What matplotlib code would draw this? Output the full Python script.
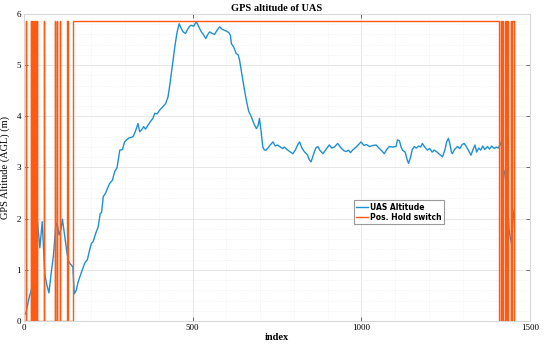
# GPS altitude of UAS vs. position-hold switch
import numpy as np
import matplotlib
matplotlib.use("Agg")
import matplotlib.pyplot as plt
from matplotlib.ticker import MultipleLocator

# altitude samples (index, metres AGL)
alt_idx = [0, 6, 15, 23, 30, 37, 42, 47, 54, 58, 62, 68, 74, 80, 87, 95, 100, 104, 110, 114,
           120, 126, 131, 136, 141, 145, 149, 155, 160, 166, 172, 180, 188, 195, 200, 205, 212,
           220, 226, 230, 235, 242, 248, 254, 262, 269, 276, 284, 292, 298, 304, 312, 323, 330,
           338, 343, 348, 355, 360, 368, 375, 382, 388, 395, 402, 412, 420, 427, 432, 437, 442,
           448, 454, 460, 466, 472, 479, 485, 491, 496, 503, 511, 518, 526, 532, 539, 545, 550,
           558, 565, 572, 580, 588, 595, 602, 608, 612, 615, 622, 629, 635, 639, 644, 649, 654,
           659, 666, 674, 682, 689, 694, 698, 703, 708, 713, 718, 723, 730, 738, 745, 752, 760,
           767, 772, 780, 790, 797, 805, 812, 817, 824, 831, 840, 846, 851, 858, 865, 871, 878,
           886, 895, 905, 912, 920, 930, 940, 948, 955, 962, 968, 974, 985, 992, 999, 1008, 1015,
           1024, 1034, 1044, 1052, 1060, 1068, 1075, 1083, 1092, 1103, 1107, 1113, 1118, 1122,
           1130, 1136, 1140, 1146, 1151, 1157, 1163, 1170, 1176, 1181, 1188, 1196, 1203, 1210,
           1216, 1225, 1233, 1241, 1248, 1253, 1258, 1263, 1267, 1270, 1276, 1285, 1292, 1299,
           1305, 1312, 1318, 1325, 1331, 1337, 1342, 1348, 1354, 1360, 1366, 1374, 1380, 1387,
           1394, 1400, 1406, 1411, 1415, 1417, 1419, 1425, 1432, 1438, 1445, 1450, 1453]
alt_val = [0.10, 0.16, 0.45, 0.64, 1.60, 2.13, 1.80, 1.43, 1.94, 1.40, 0.90, 0.70, 0.55, 0.90, 1.26,
           1.91, 1.85, 1.68, 1.80, 1.99, 1.70, 1.40, 1.19, 1.12, 1.09, 1.05, 0.53, 0.60, 0.75, 0.87,
           0.98, 1.13, 1.20, 1.40, 1.52, 1.55, 1.70, 1.84, 2.10, 2.12, 2.43, 2.50, 2.60, 2.69, 2.75,
           2.92, 3.00, 3.34, 3.35, 3.50, 3.54, 3.58, 3.60, 3.70, 3.86, 3.70, 3.73, 3.80, 3.75, 3.83,
           3.90, 3.96, 4.06, 4.05, 4.12, 4.19, 4.25, 4.38, 4.60, 4.85, 5.10, 5.40, 5.65, 5.81, 5.72,
           5.65, 5.62, 5.70, 5.76, 5.78, 5.76, 5.85, 5.75, 5.65, 5.60, 5.52, 5.60, 5.65, 5.62, 5.60,
           5.68, 5.75, 5.70, 5.68, 5.66, 5.63, 5.58, 5.42, 5.35, 5.23, 5.20, 5.10, 4.90, 4.71, 4.50,
           4.32, 4.10, 3.99, 3.85, 3.76, 3.82, 3.96, 3.70, 3.40, 3.34, 3.34, 3.38, 3.44, 3.50, 3.42,
           3.44, 3.40, 3.37, 3.40, 3.35, 3.30, 3.27, 3.35, 3.45, 3.50, 3.38, 3.31, 3.25, 3.15, 3.11,
           3.25, 3.38, 3.41, 3.33, 3.27, 3.35, 3.44, 3.38, 3.40, 3.47, 3.38, 3.33, 3.31, 3.34, 3.29,
           3.34, 3.40, 3.45, 3.50, 3.43, 3.45, 3.41, 3.43, 3.44, 3.38, 3.33, 3.27, 3.35, 3.41, 3.40,
           3.41, 3.54, 3.52, 3.40, 3.34, 3.30, 3.15, 3.08, 3.20, 3.35, 3.41, 3.38, 3.42, 3.40, 3.47,
           3.40, 3.34, 3.37, 3.30, 3.34, 3.30, 3.25, 3.21, 3.35, 3.50, 3.57, 3.45, 3.30, 3.27, 3.35,
           3.41, 3.37, 3.45, 3.47, 3.40, 3.33, 3.24, 3.35, 3.44, 3.30, 3.38, 3.34, 3.42, 3.35, 3.41,
           3.36, 3.42, 3.37, 3.40, 3.38, 3.44, 3.50, 3.50, 3.00, 2.90, 2.50, 1.78, 1.50, 2.00, 2.17]

# position hold switch: indices where it turns on / off
sw_on = [6, 20, 23, 26, 29, 32, 35, 38, 59, 92, 98, 107, 129, 144,
         1413, 1418, 1426, 1433, 1443, 1448]
sw_off = [7, 21, 24, 27, 30, 33, 36, 39, 60, 93, 99, 108, 130, 1408,
          1415, 1421, 1428, 1435, 1445, 1453]
sw_high = 5.87
sw_end = 1455

sw_x, sw_y = [0], [0]
for a, b in zip(sw_on, sw_off):
    sw_x += [a, a, b, b]
    sw_y += [0, sw_high, sw_high, 0]
sw_x.append(sw_end)
sw_y.append(0)

serif = "Liberation Serif"

fig = plt.figure(figsize=(5.5, 3.46), dpi=100)
ax = fig.add_axes([0.0436, 0.0723, 0.92, 0.8872])

ax.plot(alt_idx, alt_val, color="#1f8fd4", lw=1.0, label="UAS Altitude")
ax.plot(sw_x, sw_y, color="#ff5a14", lw=1.0, label="Pos. Hold switch")

ax.set_xlim(0, 1500)
ax.set_ylim(0, 6)
ax.xaxis.set_major_locator(MultipleLocator(500))
ax.xaxis.set_minor_locator(MultipleLocator(100))
ax.yaxis.set_major_locator(MultipleLocator(1))
ax.yaxis.set_minor_locator(MultipleLocator(0.2))
ax.grid(which="major", color="#e3e3e3", lw=0.6)
ax.grid(which="minor", color="#ececec", lw=0.5, ls=":")
ax.set_axisbelow(True)

ax.tick_params(which="both", direction="in", top=True, right=True,
               labelsize=6.5, color="#555555", pad=2)
ax.tick_params(which="major", length=3, width=0.6)
ax.tick_params(which="minor", length=0)
for lab in ax.get_xticklabels() + ax.get_yticklabels():
    lab.set_fontfamily(serif)
for s in ax.spines.values():
    s.set_color("#d8d8d8")
    s.set_linewidth(0.8)

ax.set_title("GPS altitude of UAS", fontfamily=serif, fontweight="bold",
             fontsize=7.5, pad=2)
ax.set_xlabel("index", fontfamily=serif, fontweight="bold", fontsize=7.5, labelpad=1)
ax.set_ylabel("GPS Altitude (AGL) (m)", fontfamily=serif, fontsize=7.5, labelpad=5)

leg = ax.legend(loc="upper left", bbox_to_anchor=(0.645, 0.405),
                prop={"weight": "bold", "size": 5.5}, handlelength=1.5,
                handletextpad=0.3, borderpad=0.3, labelspacing=0.15,
                fancybox=False, framealpha=1)
leg.get_frame().set_edgecolor("#9a9a9a")
leg.get_frame().set_linewidth(0.8)

fig.savefig("out.png", dpi=100)
